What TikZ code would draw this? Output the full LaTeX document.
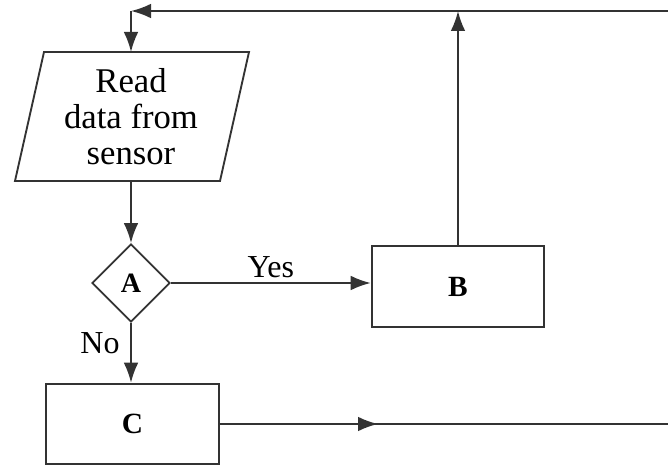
\documentclass[tikz,border=0pt]{standalone}
\usepackage{fontspec}
\setmainfont{Liberation Serif}
\usetikzlibrary{shapes.geometric,arrows.meta}
\begin{document}
\begin{tikzpicture}[x=0.75pt,y=-0.75pt,
  ln/.style={line width=1.4pt,draw=black!80},
  arr/.style={ln,-{Latex[length=15pt,width=11pt]}},
  boxnode/.style={ln,rectangle,minimum width=129.5pt,minimum height=60.5pt,inner sep=0pt,font=\fontsize{22}{26}\selectfont\bfseries},
  dia/.style={ln,diamond,aspect=1,minimum size=58.5pt,inner sep=0pt,font=\fontsize{21}{24}\selectfont\bfseries},
  lbl/.style={font=\fontsize{24}{28}\selectfont,inner sep=0pt},
  txt/.style={align=center,font=\fontsize{26}{27}\selectfont,inner sep=0pt}]
\useasboundingbox (0,0) rectangle (668,466);
% parallelogram
\draw[ln] (44,52) -- (249,52) -- (220,181) -- (15,181) -- cycle;
\node[txt] (read) at (131,117) {Read\\data from\\sensor};
\coordinate (readtop) at (131,52);
\coordinate (readbot) at (131,181);
\node[dia] (A) at (131,283) {A};
\node[boxnode] (B) at (458,286.5) {B};
\node[boxnode] (C) at (132.5,424) {C};
\coordinate (corner) at (131,11);
\coordinate (topright) at (668,11);
\coordinate (Btop) at (B.north |- corner);
\coordinate (Cmid) at (378,424);
\coordinate (Cright) at (668,424);
% connectors
\draw[arr] (readbot) -- (A.north);
\draw[arr] (A.east) -- (A.east -| B.west) node[lbl,midway,above=3pt] (yes) {Yes};
\draw[arr] (A.south) -- (A.south |- C.north);
\node[lbl] (no) at (100,343) {No};
\draw[arr] (B.north) -- (Btop);
\draw[arr] (topright) -- (corner);
\draw[arr] (corner) -- (readtop);
\draw[ln] (C.east) -- (Cright);
\draw[arr] (C.east) -- (Cmid);
\end{tikzpicture}
\end{document}
